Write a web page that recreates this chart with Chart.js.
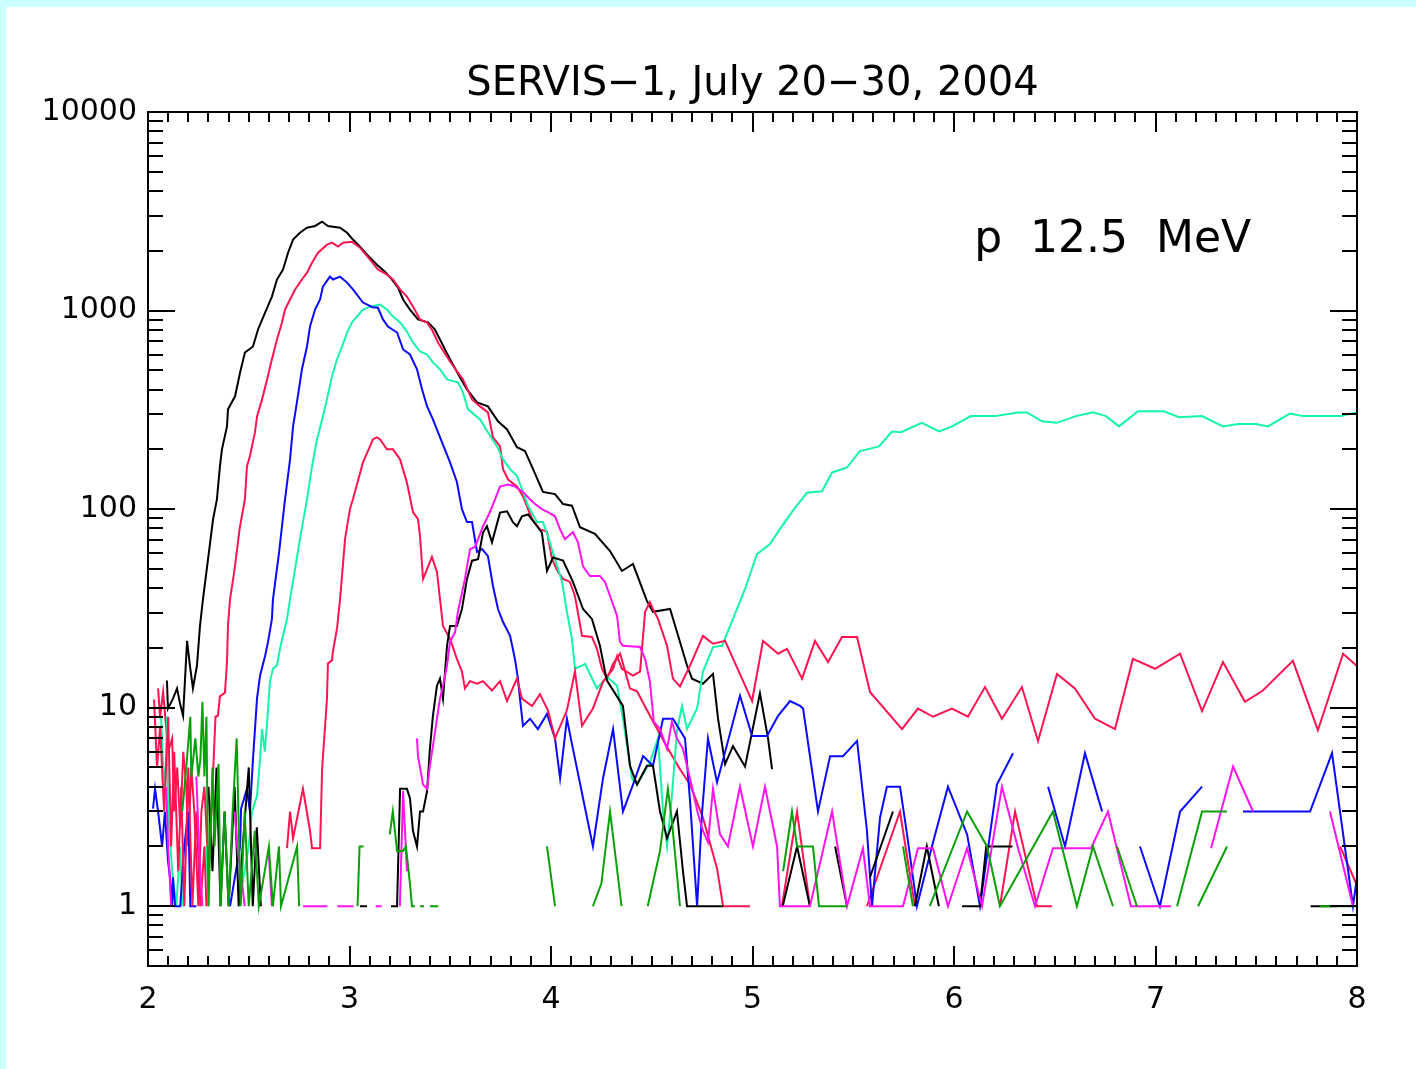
<!DOCTYPE html>
<html>
<head>
<meta charset="utf-8">
<script src="https://cdn.jsdelivr.net/npm/chart.js@4.4.1/dist/chart.umd.min.js"></script>
<style>
  html, body { margin: 0; padding: 0; background: #ccffff; width: 1416px; height: 1069px; overflow: hidden; }
  #wrap { position: absolute; left: 6px; top: 7px; width: 1410px; height: 1062px; background: #ffffff; }
  canvas { display: block; }
</style>
</head>
<body>
<div id="wrap"><canvas id="c" width="1410" height="1062"></canvas></div>
<script>
// ---------------- data (x = L, y = counts) ----------------
const titleText = 'SERVIS\u22121, July 20\u221230, 2004';
const annotationText = 'p  12.5  MeV';
const annotationPos = [6.10, 1980];
const xTickValues = [2, 3, 4, 5, 6, 7, 8];
const yTickValues = [1, 10, 100, 1000, 10000];

const blackA = [[2.094,13.7],[2.099,9.9],[2.124,11.1],[2.144,12.5],[2.159,10.5],[2.174,9.1],[2.194,21.7],[2.208,16.3],[2.223,12.5],[2.243,16.3],[2.258,25.8],[2.273,35.3],[2.298,56],[2.323,89],[2.342,112],[2.357,164],[2.367,200],[2.392,261],[2.397,318],[2.432,370],[2.457,488],[2.481,615],[2.521,659],[2.546,803],[2.581,977],[2.615,1176],[2.640,1433],[2.670,1609],[2.695,1955],[2.720,2278],[2.754,2465],[2.789,2612],[2.829,2667],[2.864,2801],[2.893,2667],[2.953,2612],[2.988,2465],[3.017,2278],[3.052,2099],[3.087,1911],[3.136,1703],[3.176,1570],[3.211,1433],[3.241,1305],[3.266,1137],[3.300,1012],[3.340,902],[3.390,871],[3.424,803],[3.449,715],[3.499,568],[3.548,461],[3.583,401],[3.633,345],[3.687,329],[3.737,277],[3.782,252],[3.831,205],[3.871,196],[3.911,159],[3.960,122],[4.020,119],[4.060,106],[4.104,104],[4.144,81],[4.218,75],[4.293,61.5],[4.352,48.8],[4.407,52.9],[4.476,34.5],[4.506,30.4],[4.591,31.4],[4.625,24.1],[4.675,16.3],[4.700,14.0],[4.754,13.2],[4.804,14.8],[4.829,8.8],[4.864,5.2],[4.903,6.4],[4.963,5.05],[5.037,11.8],[5.077,7.0],[5.097,4.9]];

const redA = [[2.05,12.5],[2.06,9],[2.075,12],[2.09,8],[2.10,6],[2.12,7],[2.13,3],[2.145,5],[2.16,2.5],[2.175,6],[2.19,4],[2.20,2],[2.215,5],[2.23,3],[2.25,1],[2.265,3],[2.28,4],[2.30,1.5],[2.32,4],[2.335,9],[2.347,9.1],[2.357,11.4],[2.382,11.9],[2.392,17],[2.397,26],[2.407,35],[2.43,50],[2.455,80],[2.481,112],[2.491,164],[2.506,185],[2.531,244],[2.541,293],[2.566,357],[2.591,450],[2.615,568],[2.640,715],[2.665,871],[2.680,1012],[2.705,1137],[2.730,1277],[2.764,1433],[2.789,1552],[2.814,1742],[2.844,1955],[2.888,2147],[2.913,2197],[2.943,2099],[2.968,2197],[3.012,2222],[3.052,2073],[3.102,1807],[3.141,1609],[3.186,1517],[3.216,1433],[3.251,1277],[3.285,1176],[3.315,1047],[3.350,902],[3.385,871],[3.414,784],[3.439,691],[3.499,554],[3.563,450],[3.608,357],[3.648,329],[3.687,307],[3.712,230],[3.747,207],[3.762,159],[3.787,141],[3.831,130],[3.861,116],[3.906,89],[3.945,79],[3.980,77],[4.005,56],[4.035,48.3],[4.060,44.5],[4.094,43],[4.119,36.5],[4.154,23],[4.203,22.7],[4.228,19.8],[4.253,15.7],[4.278,14.0],[4.308,16.6],[4.343,18.7],[4.392,12.5],[4.427,12.1],[4.491,9.1],[4.566,6.6],[4.640,4.9],[4.690,4.1],[4.754,2.8],[4.824,1.55],[4.854,1],[4.988,1],[5.05,null],[5.146,1],[5.221,3],[5.285,1],[5.4,null],[5.568,1],[5.732,3],[5.806,1],[6.0,null],[6.228,1],[6.303,3],[6.412,1],[6.486,1],[7.0,null],[7.916,2],[8.0,1.27]];

const redB = [[2.03,11],[2.045,5],[2.06,8],[2.08,3],[2.10,9],[2.115,2],[2.13,6],[2.15,1.5],[2.165,4],[2.18,1],[2.20,5],[2.22,1],[2.24,3],[2.26,1],[2.28,2],[2.29,1],[2.5,null],[2.69,1.96],[2.705,3.0],[2.72,2.2],[2.769,3.9],[2.804,2.4],[2.814,1.96],[2.854,1.96],[2.864,4.9],[2.888,11],[2.893,16.7],[2.913,17.3],[2.918,19.3],[2.938,25],[2.953,35],[2.978,70.6],[3.002,100],[3.017,112],[3.067,172],[3.117,225],[3.136,230],[3.151,225],[3.186,200],[3.216,200],[3.251,178],[3.285,136],[3.315,96.6],[3.340,89],[3.350,73],[3.365,44.5],[3.385,49.9],[3.409,57.4],[3.434,48.3],[3.464,25.8],[3.499,22.2],[3.533,17.6],[3.558,15.2],[3.573,12.5],[3.598,13.6],[3.633,13.2],[3.662,13.6],[3.707,12.2],[3.747,13.6],[3.782,10.8],[3.831,14.0],[3.856,11.1],[3.906,10.2],[3.945,11.7],[3.985,9.7],[4.020,7.0],[4.079,9.7],[4.119,15.2],[4.154,8.1],[4.208,9.9],[4.258,13.5],[4.308,15.7],[4.328,18.2],[4.352,15.7],[4.407,14.5],[4.442,15.2],[4.467,30.4],[4.491,34],[4.506,31.4],[4.531,28],[4.576,20.5],[4.605,14.0],[4.640,12.8],[4.690,16.3],[4.754,23],[4.804,21],[4.864,21.7],[4.998,10.8],[5.052,21.7],[5.127,18.7],[5.171,19.8],[5.246,14.0],[5.310,21.7],[5.375,17.0],[5.444,22.7],[5.519,22.7],[5.583,12.0],[5.742,7.8],[5.821,9.9],[5.896,9.0],[5.990,9.9],[6.069,9.0],[6.154,12.7],[6.238,8.8],[6.337,12.7],[6.417,6.8],[6.511,14.8],[6.600,12.5],[6.700,8.8],[6.799,7.8],[6.888,17.6],[6.998,15.7],[7.122,18.7],[7.231,9.6],[7.335,17.0],[7.444,10.7],[7.533,12.2],[7.682,17.2],[7.806,7.7],[7.931,18.7],[8.0,16.2]];

const blue = [[2.025,3.1],[2.035,3.9],[2.05,3.0],[2.07,2.0],[2.084,3.0],[2.099,1.7],[2.109,1.4],[2.119,1],[2.124,1.4],[2.134,1],[2.16,1],[2.18,2],[2.20,3],[2.21,1],[2.24,1],[2.3,null],[2.407,1],[2.457,2.0],[2.462,3.1],[2.491,3.9],[2.506,3.0],[2.521,5.5],[2.541,11.1],[2.556,14.5],[2.581,18.2],[2.596,21.5],[2.615,28],[2.62,35],[2.65,60],[2.680,112],[2.705,178],[2.720,261],[2.739,345],[2.764,506],[2.789,659],[2.804,831],[2.829,1012],[2.854,1137],[2.868,1320],[2.903,1482],[2.918,1433],[2.953,1482],[2.988,1383],[3.017,1277],[3.067,1097],[3.117,1036],[3.141,1036],[3.166,902],[3.191,831],[3.236,775],[3.266,637],[3.300,601],[3.335,506],[3.360,401],[3.385,329],[3.414,283],[3.439,244],[3.499,172],[3.533,137],[3.558,100],[3.583,86],[3.608,86],[3.633,60.8],[3.658,62.9],[3.687,58],[3.712,41],[3.737,31.4],[3.762,27],[3.797,23],[3.821,17.6],[3.836,14.0],[3.846,11.1],[3.861,8.1],[3.896,8.8],[3.935,7.8],[3.980,9.3],[4.020,7.0],[4.045,4.4],[4.079,8.8],[4.109,6.2],[4.159,3.5],[4.208,2.0],[4.258,4.4],[4.308,7.8],[4.357,3.0],[4.407,4.1],[4.457,5.7],[4.506,5.1],[4.556,8.8],[4.605,8.8],[4.665,7.0],[4.690,3.4],[4.725,1],[4.749,2.9],[4.779,7.0],[4.824,4.2],[4.938,11.5],[4.998,7.2],[5.072,7.2],[5.127,9.1],[5.186,10.8],[5.236,10.2],[5.251,9.9],[5.325,3.0],[5.385,5.7],[5.449,5.7],[5.519,6.8],[5.568,2.4],[5.593,1],[5.633,2.8],[5.667,4.0],[5.732,4.0],[5.767,2.3],[5.816,1],[5.896,2.1],[5.970,4.0],[6.065,2.3],[6.129,1],[6.213,4.1],[6.293,5.9],[6.4,null],[6.467,4.0],[6.551,2.0],[6.650,5.9],[6.735,3.0],[6.8,null],[6.923,2.0],[7.022,1],[7.122,3.0],[7.231,4.0],[7.3,null],[7.434,3.0],[7.767,3.0],[7.876,5.9],[7.980,1],[8.0,1.4]];

const cyan = [[2.065,9],[2.075,5],[2.085,4],[2.095,9],[2.10,3],[2.12,1.5],[2.14,1],[2.16,2],[2.17,1],[2.2,null],[2.29,2],[2.30,1],[2.35,null],[2.45,1],[2.50,2],[2.516,3.0],[2.541,3.6],[2.556,5.5],[2.566,7.8],[2.58,6.0],[2.595,9.5],[2.605,13.5],[2.62,15.7],[2.64,16.3],[2.655,19.8],[2.67,23],[2.69,28],[2.705,35.3],[2.73,50],[2.754,70.6],[2.789,112],[2.814,164],[2.839,225],[2.864,283],[2.888,357],[2.913,466],[2.938,568],[2.963,659],[2.988,775],[3.012,871],[3.037,933],[3.067,1012],[3.102,1047],[3.151,1072],[3.186,1012],[3.216,933],[3.251,871],[3.285,784],[3.315,691],[3.350,622],[3.385,601],[3.414,548],[3.449,506],[3.484,450],[3.538,435],[3.563,387],[3.588,318],[3.648,283],[3.687,244],[3.732,207],[3.762,178],[3.797,159],[3.831,147],[3.861,122],[3.886,104],[3.931,86],[3.960,86],[3.985,73],[4.020,56],[4.055,43],[4.079,30.4],[4.104,22.2],[4.119,15.7],[4.154,16.3],[4.169,16.6],[4.228,12.5],[4.278,14.3],[4.328,12.9],[4.357,8.8],[4.402,4.4],[4.427,4.1],[4.491,5.3],[4.531,7.0],[4.556,3.0],[4.576,2.0],[4.600,3.6],[4.625,7.6],[4.650,10.2],[4.675,7.8],[4.725,9.9],[4.754,15.2],[4.804,20.2],[4.849,20.5],[4.903,28],[4.963,39.6],[5.022,59.3],[5.087,66.6],[5.136,79.3],[5.206,100],[5.270,121],[5.345,123],[5.395,153],[5.469,162],[5.533,196],[5.628,207],[5.692,246],[5.737,244],[5.841,272],[5.926,246],[5.990,261],[6.084,294],[6.129,294],[6.203,294],[6.318,307],[6.362,307],[6.437,277],[6.511,272],[6.605,294],[6.690,307],[6.754,294],[6.819,261],[6.913,311],[7.042,311],[7.117,290],[7.231,294],[7.335,261],[7.409,268],[7.499,268],[7.558,261],[7.667,303],[7.732,294],[7.921,294],[7.995,307]];

const magenta = [[2.09,4],[2.10,2],[2.115,1],[2.2,null],[2.24,4.5],[2.255,1.8],[2.27,1],[2.35,null],[2.43,3],[2.445,1.9],[2.46,1.5],[2.48,1],[2.55,null],[2.60,1.8],[2.615,1],[2.7,null],[2.77,1],[2.89,1],[2.91,null],[2.94,1],[3.02,1],[3.1,null],[3.13,1],[3.16,1],[3.2,null],[3.25,1],[3.266,3.8],[3.285,1.5],[3.3,null],[3.335,7.0],[3.340,5.7],[3.365,4.1],[3.385,3.9],[3.399,5.1],[3.414,6.4],[3.434,8.8],[3.449,11.1],[3.464,12.9],[3.484,16.3],[3.499,21.5],[3.524,24],[3.538,30.4],[3.573,44.5],[3.598,62.9],[3.623,64.5],[3.663,82],[3.697,96.5],[3.722,112],[3.747,130],[3.787,133],[3.821,130],[3.861,122],[3.896,112],[3.921,106],[3.955,100],[3.985,96.5],[4.020,92],[4.045,79],[4.069,70.6],[4.109,76.5],[4.134,68],[4.159,51.5],[4.193,46],[4.243,46],[4.268,43],[4.293,36.5],[4.328,29],[4.342,21.5],[4.357,20.5],[4.442,20.2],[4.467,17.6],[4.491,13.5],[4.51,8.5],[4.541,7.8],[4.576,6.2],[4.600,8.5],[4.625,7.0],[4.655,6.2],[4.690,4.4],[4.730,2.9],[4.754,2.4],[4.779,2.1],[4.804,3.9],[4.839,2.3],[4.878,2.0],[4.938,4.0],[5.002,2.0],[5.062,4.0],[5.122,2.0],[5.136,1],[5.285,1],[5.395,3.0],[5.469,1],[5.548,1.96],[5.583,1],[5.747,1],[5.821,1.96],[5.896,1.96],[5.970,1],[6.065,1.96],[6.139,1],[6.238,4.0],[6.318,1.96],[6.402,1],[6.491,1.96],[6.680,1.96],[6.764,3.0],[6.878,1],[7.077,1],[7.2,null],[7.276,1.96],[7.385,5.05],[7.484,3.0],[7.6,null],[7.866,3.0],[7.980,1]];

const blackB = [[2.30,4],[2.32,1.5],[2.34,5],[2.36,1],[2.38,3],[2.40,1],[2.43,4],[2.45,1],[2.47,2],[2.50,5],[2.52,1],[2.54,2.5],[2.56,1],[2.8,null],[3.052,1],[3.087,1],[3.15,null],[3.206,1],[3.236,1],[3.251,3.9],[3.285,3.9],[3.300,3.5],[3.315,2.4],[3.335,2.0],[3.350,3.0],[3.365,3.0],[3.385,3.8],[3.399,6.2],[3.414,9.1],[3.434,12.9],[3.449,14.0],[3.464,11.1],[3.484,20.5],[3.499,25.8],[3.533,25.8],[3.558,31.4],[3.583,44.5],[3.608,55],[3.638,56],[3.662,76],[3.682,82],[3.707,68],[3.747,96],[3.782,97.5],[3.811,86],[3.831,82],[3.856,92],[3.886,94],[3.931,82],[3.955,76],[3.980,48.8],[4.010,57],[4.060,55],[4.109,43],[4.159,31.4],[4.203,28],[4.243,20.5],[4.268,15.2],[4.278,13.7],[4.357,10.2],[4.392,5.1],[4.427,4.1],[4.476,5.1],[4.506,5.1],[4.541,3.0],[4.576,2.2],[4.625,3.0],[4.655,1.5],[4.675,1],[4.854,1],[5.0,null],[5.15,1],[5.221,2],[5.285,1],[5.35,null],[5.41,2],[5.469,1],[5.5,null],[5.583,1.4],[5.697,3],[5.75,null],[5.806,1],[5.865,2],[5.925,1],[6.0,null],[6.04,1],[6.129,1],[6.16,2],[6.29,2],[7.0,null],[7.77,1],[7.90,1]];

const green = [[2.17,3],[2.19,5],[2.21,9],[2.215,4.5],[2.235,7],[2.25,4.5],[2.26,5.5],[2.27,10.7],[2.28,4.5],[2.29,9],[2.30,1],[2.32,5],[2.33,2],[2.35,5.2],[2.36,1],[2.38,3],[2.40,1],[2.42,3],[2.44,7],[2.46,1],[2.48,3],[2.50,1],[2.53,2.4],[2.55,1],[2.60,2],[2.62,1],[2.65,2],[2.66,1],[2.74,2],[2.75,1],[2.9,null],[3.04,1],[3.05,2],[3.07,2],[3.1,null],[3.20,2.3],[3.215,3],[3.236,1.9],[3.266,1.9],[3.28,2],[3.30,1.3],[3.31,1],[3.325,1],[3.34,null],[3.35,1],[3.37,1],[3.39,null],[3.40,1],[3.44,1],[3.6,null],[3.98,2],[4.02,1],[4.1,null],[4.208,1],[4.25,1.3],[4.293,3],[4.35,1],[4.4,null],[4.48,1],[4.541,1.9],[4.58,3.9],[4.60,2.7],[4.64,1],[4.9,null],[5.152,1.5],[5.196,3],[5.221,2],[5.300,2],[5.33,1],[5.469,1],[5.6,null],[5.747,2],[5.796,1],[5.85,null],[5.88,1],[6.065,3],[6.164,2],[6.228,1],[6.491,3],[6.610,1],[6.690,2],[6.789,1],[6.8,null],[6.809,2],[6.908,1],[7.0,null],[7.107,1],[7.231,3],[7.355,3],[7.36,null],[7.211,1],[7.355,2],[7.5,null],[7.816,1],[7.980,1],[8.0,1]];

// ---------------- chart ----------------
const FONT = 'DejaVu Sans';
const toPts = arr => arr.map(p => ({ x: p[0], y: p[1] }));
const series = [
  { data: green,   color: '#0aa00a' },
  { data: magenta, color: '#ff14f0' },
  { data: blackB,  color: '#000000' },
  { data: redB,    color: '#ff1450' },
  { data: blue,    color: '#0a0aff' },
  { data: cyan,    color: '#14f5a5' },
  { data: redA,    color: '#ff1450' },
  { data: blackA,  color: '#000000' }
];

const frameTicks = {
  id: 'frameTicks',
  afterDatasetsDraw(chart) {
    const { ctx, chartArea: a, scales } = chart;
    const xs = scales.x, ys = scales.y;
    ctx.save();
    ctx.strokeStyle = '#000';
    ctx.lineWidth = 2;
    ctx.beginPath();
    const xMin = xs.min, xMax = xs.max;
    for (let i = 0; i <= Math.round((xMax - xMin) * 10); i++) {
      const v = xMin + i * 0.1;
      const px = Math.round(xs.getPixelForValue(v));
      const len = (i % 10 === 0) ? 20 : 10;
      ctx.moveTo(px, a.bottom); ctx.lineTo(px, a.bottom - len);
      ctx.moveTo(px, a.top); ctx.lineTo(px, a.top + len);
    }
    for (let e = -1; e <= 4; e++) {
      for (let m = 1; m <= 9; m++) {
        const v = m * Math.pow(10, e);
        if (v < ys.min - 1e-9 || v > ys.max + 1e-9) continue;
        const py = Math.round(ys.getPixelForValue(v));
        const len = (m === 1) ? 27 : 15;
        ctx.moveTo(a.left, py); ctx.lineTo(a.left + len, py);
        ctx.moveTo(a.right, py); ctx.lineTo(a.right - len, py);
      }
    }
    ctx.stroke();
    ctx.strokeRect(a.left, a.top, a.right - a.left, a.bottom - a.top);
    ctx.fillStyle = '#000';
    ctx.font = '44px "' + FONT + '"';
    ctx.textAlign = 'left';
    ctx.textBaseline = 'alphabetic';
    ctx.fillText(annotationText, xs.getPixelForValue(annotationPos[0]), ys.getPixelForValue(annotationPos[1]));
    ctx.restore();
  }
};

new Chart(document.getElementById('c'), {
  type: 'line',
  data: {
    datasets: series.map(s => ({
      data: toPts(s.data),
      borderColor: s.color,
      backgroundColor: s.color,
      borderWidth: 2,
      pointRadius: 0,
      tension: 0,
      spanGaps: false,
      fill: false
    }))
  },
  options: {
    responsive: false,
    animation: false,
    events: [],
    layout: { padding: { left: 0, right: 59, top: 0, bottom: 0 } },
    plugins: {
      legend: { display: false },
      tooltip: { enabled: false },
      title: {
        display: true,
        text: titleText,
        fullSize: false,
        color: '#000',
        font: { family: FONT, size: 40, weight: 'normal' },
        padding: { top: 54, bottom: 3 }
      }
    },
    scales: {
      x: {
        type: 'linear',
        min: 2, max: 8,
        grid: { display: false, drawTicks: false },
        border: { display: false },
        afterBuildTicks: s => { s.ticks = xTickValues.map(v => ({ value: v })); },
        ticks: {
          color: '#000', padding: 16, maxRotation: 0, autoSkip: false,
          font: { family: FONT, size: 30 },
          callback: v => String(v)
        },
        afterFit: s => { s.height = 103; }
      },
      y: {
        type: 'logarithmic',
        min: 0.5, max: 10000,
        grid: { display: false, drawTicks: false },
        border: { display: false },
        afterBuildTicks: s => { s.ticks = yTickValues.map(v => ({ value: v })); },
        ticks: {
          color: '#000', padding: 11, autoSkip: false,
          font: { family: FONT, size: 30 },
          callback: v => String(v)
        },
        afterFit: s => { s.width = 142; }
      }
    }
  },
  plugins: [frameTicks]
});
</script>
</body>
</html>
